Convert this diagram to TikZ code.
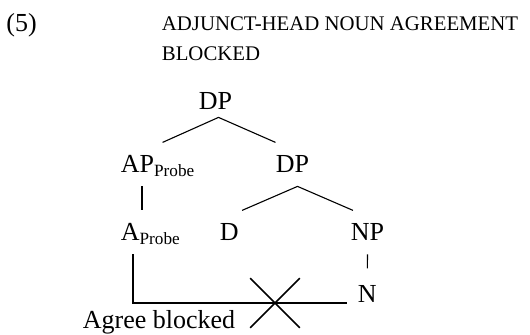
\documentclass[tikz,border=0pt]{standalone}
\usepackage{fontspec}
\setmainfont{Liberation Serif}
\usetikzlibrary{shapes.misc}

\newcommand{\probe}{\raisebox{-2pt}{\fontsize{8.6}{10}\selectfont Probe}}

\begin{document}
\begin{tikzpicture}[
    x=0.5pt, y=-0.5pt,
    cat/.style={
        inner xsep=0pt,
        inner ysep=6.5pt,
        text height=8.6pt,
        text depth=0pt,
        anchor=base west,
        font=\fontsize{13}{15}\selectfont
    },
    caps/.style={
        inner sep=0pt,
        anchor=base west,
        font=\fontsize{10.4}{15}\selectfont
    },
    branch/.style={line width=0.55pt},
    agree/.style={line width=0.8pt},
]
\useasboundingbox (0,0) rectangle (530,335);

% nodes
\node[cat] (ex) at (6,32) {(5)};
\node[caps] (title) at (161.5,31) {ADJUNCT-HEAD NOUN AGREEMENT};
\node[caps] (title2) at (161.5,61) {BLOCKED};

\node[cat, inner ysep=3.5pt] (root) at (198.5,110) {DP};
\node[cat] (ap) at (120.5,173) {AP\probe};
\node[cat] (dp) at (275.5,173) {DP};
\node[cat] (a) at (120.5,241) {A\probe};
\node[cat] (d) at (219.5,241) {D};
\node[cat] (np) at (350.5,241) {NP};
\node[cat] (n) at (357.5,303) {N};
\node[cat] (blocked) at (82.5,328.5) {Agree blocked};

\node[draw, cross out, agree, minimum size=24pt, inner sep=0pt] (cross) at (275,303) {};

% branches
\draw[branch] ([xshift=2.5pt]ap.north) -- ([xshift=1.5pt]root.south) -- (dp.north west);
\draw[branch] ([xshift=10.75pt]ap.south west) -- ([xshift=10.75pt]a.north west);
\draw[branch] ([xshift=1.5pt]d.north east) -- ([xshift=2.5pt]dp.south) -- ([xshift=1.25pt]np.north west);
\draw[branch, shorten >=2pt] (np.south) -- (n.north);

% agree line
\draw[agree] ([xshift=6.25pt]a.south west) |- ([xshift=-5.25pt]n.base west);

\end{tikzpicture}
\end{document}
